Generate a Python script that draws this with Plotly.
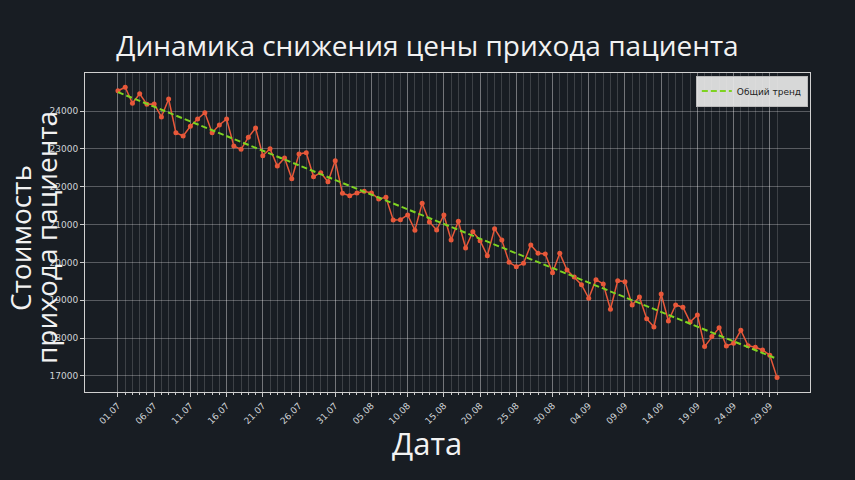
import numpy as np
import pandas as pd
import plotly.graph_objects as go

# Daily dates, 01.07 – 30.09
start_date = "2023-07-01"
n_days = 92
dates = pd.date_range(start_date, periods=n_days, freq="D")

# Patient visit cost per day
cost = [
    24536, 24626, 24203, 24457, 24177, 24185, 23842, 24317, 23427, 23340,
    23595, 23789, 23955, 23427, 23630, 23789, 23076, 22988, 23305, 23551,
    22820, 23004, 22547, 22759, 22212, 22864, 22899, 22265, 22371, 22133,
    22688, 21826, 21763, 21834, 21879, 21834, 21676, 21721, 21121, 21130,
    21254, 20849, 21562, 21069, 20857, 21254, 20593, 21087, 20382, 20812,
    20575, 20178, 20892, 20593, 20004, 19888, 19978, 20461, 20242, 20223,
    19730, 20242, 19801, 19616, 19413, 19053, 19545, 19431, 18763, 19518,
    19492, 18877, 19088, 18515, 18296, 19167, 18454, 18877, 18816, 18427,
    18612, 17776, 18040, 18277, 17794, 17865, 18208, 17802, 17760, 17688,
    17548, 16957,
]

y_ticks = [17000, 18000, 19000, 20000, 21000, 22000, 23000, 24000]
x_ticks = dates[::5]

title_text = "Динамика снижения цены прихода пациента"
x_title = "Дата"
y_title_lines = ["Стоимость", "прихода пациента"]
trend_name = "Общий тренд"

# Linear trend fitted over the day index
idx = np.arange(n_days)
slope, intercept = np.polyfit(idx, cost, 1)
trend = slope * idx + intercept

BG = "#181d23"
TXT = "#f2f2f2"
TICK = "#cfd3d6"
LINE = "#e8583a"
TREND = "#7ed321"

fig = go.Figure()
fig.add_trace(go.Scatter(
    x=dates, y=cost, mode="lines+markers",
    line=dict(color=LINE, width=1.5),
    marker=dict(color=LINE, size=5),
    showlegend=False,
))
fig.add_trace(go.Scatter(
    x=dates, y=trend, mode="lines", name=trend_name,
    line=dict(color=TREND, width=2, dash="6px,3px"),
))

x0 = dates[0] - pd.Timedelta(days=4.55)
x1 = dates[-1] + pd.Timedelta(days=4.55)

# plot area in pixels: x 85..810, y 73..392
def px_x(p):
    return (p - 85) / 725

def px_y(p):
    return (392 - p) / 319

annotations = [
    dict(text=x_title, xref="paper", yref="paper",
         x=px_x(427), y=px_y(443),
         xanchor="center", yanchor="middle", showarrow=False,
         font=dict(size=31, color=TXT)),
]
for line_text, cx, size in zip(y_title_lines, [20, 46], [28, 28]):
    annotations.append(dict(
        text=line_text, xref="paper", yref="paper",
        x=px_x(cx), y=px_y(238),
        xanchor="center", yanchor="middle", showarrow=False,
        textangle=-90, font=dict(size=size, color=TXT),
    ))

fig.update_layout(
    width=855, height=480,
    paper_bgcolor=BG, plot_bgcolor=BG,
    margin=dict(l=85, r=45, t=73, b=88),
    font=dict(family="Open Sans, DejaVu Sans, sans-serif", color=TXT),
    title=dict(
        text=title_text, x=0.5, xref="container", xanchor="center",
        y=1 - 46 / 480, yref="container", yanchor="middle",
        font=dict(size=28, color=TXT),
    ),
    legend=dict(
        x=0.997, y=0.992, xanchor="right", yanchor="top",
        bgcolor="rgba(232,232,232,0.92)", bordercolor="#bbbbbb", borderwidth=1,
        font=dict(size=9, color="#222222", family="DejaVu Sans, sans-serif"),
        itemwidth=30, tracegroupgap=0,
    ),
    xaxis=dict(
        type="date", range=[x0, x1],
        tickvals=x_ticks, tickformat="%d.%m",
        tickangle=-45, ticks="outside", ticklen=4, tickcolor="#cccccc",
        tickfont=dict(size=9, color=TICK, family="DejaVu Sans, sans-serif"),
        showgrid=True, gridcolor="rgba(255,255,255,0.28)", gridwidth=1,
        minor=dict(tickvals=dates, ticks="outside", ticklen=2,
                   tickcolor="#cccccc", showgrid=True,
                   gridcolor="rgba(255,255,255,0.16)", gridwidth=1),
        showline=True, linecolor="#d0d0d0", linewidth=1, mirror=True,
        zeroline=False,
    ),
    yaxis=dict(
        range=[16577, 25004], tickvals=y_ticks, tickformat="d",
        ticks="outside", ticklen=4, tickcolor="#cccccc",
        tickfont=dict(size=9, color=TICK, family="DejaVu Sans, sans-serif"),
        showgrid=True, gridcolor="rgba(255,255,255,0.28)", gridwidth=1,
        showline=True, linecolor="#d0d0d0", linewidth=1, mirror=True,
        zeroline=False,
    ),
    annotations=annotations,
)

fig.write_html("out.html")
